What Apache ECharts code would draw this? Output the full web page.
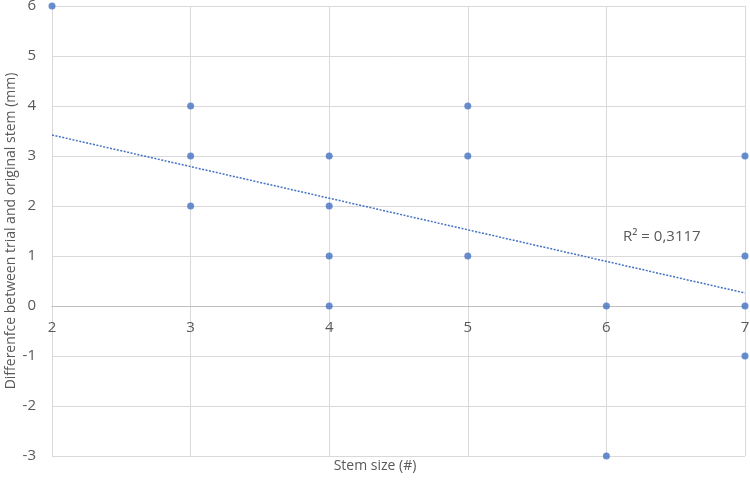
<!DOCTYPE html>
<html>
<head>
<meta charset="utf-8">
<script src="https://cdn.jsdelivr.net/npm/echarts@6/dist/echarts.min.js"></script>
<style>
  html, body { margin: 0; padding: 0; background: #fff; }
  #chart { width: 750px; height: 480px; }
</style>
</head>
<body>
<div id="chart"></div>
<script>
// measured points (stem size, difference in mm)
const stemSize = [2, 3, 3, 3, 4, 4, 4, 4, 5, 5, 5, 6, 6, 7, 7, 7, 7];
const difference = [6, 4, 3, 2, 3, 2, 1, 0, 4, 3, 1, 0, -3, 3, 1, 0, -1];

// linear trendline endpoints as drawn
const trendX = [2, 7];
const trendY = [3.42, 0.26];
const rSquaredText = "R² = 0,3117";

const points = stemSize.map((x, i) => [x, difference[i]]);
const trend = trendX.map((x, i) => [x, trendY[i]]);

const chart = echarts.init(document.getElementById("chart"));
const fontFamily = "'Open Sans', 'Liberation Sans', sans-serif";

chart.setOption({
  animation: false,
  textStyle: { fontFamily: fontFamily },
  grid: { left: 52, right: 5, top: 6, bottom: 24, outerBoundsMode: "none", containLabel: false },
  xAxis: {
    type: "value",
    min: 2,
    max: 7,
    interval: 1,
    // x axis crosses the value axis at 0 (3 units above the -3 bottom)
    offset: -150,
    axisLine: { onZero: false, lineStyle: { color: "#bfbfbf", width: 1 } },
    axisTick: { show: false },
    axisLabel: { color: "#595959", fontSize: 15, margin: 14 },
    splitLine: { lineStyle: { color: "#d9d9d9" } },
  },
  yAxis: {
    type: "value",
    min: -3,
    max: 6,
    interval: 1,
    axisLine: { show: true, lineStyle: { color: "#d9d9d9" } },
    axisTick: { show: false },
    axisLabel: { color: "#595959", fontSize: 15, margin: 16 },
    splitLine: { lineStyle: { color: "#d9d9d9" } },
  },
  series: [
    {
      type: "line",
      data: trend,
      symbol: "none",
      lineStyle: { color: "#4472C4", width: 1.5, type: [2, 1.5] },
      z: 1,
    },
    {
      type: "scatter",
      data: points,
      symbolSize: 7,
      itemStyle: { color: "#4472C4" },
      z: 3,
    },
  ],
  graphic: [
    {
      type: "text",
      x: 11,
      y: 231,
      rotation: Math.PI / 2,
      style: {
        text: "Differenfce between trial and original stem (mm)",
        fill: "#595959",
        fontSize: 14,
        fontFamily: fontFamily,
        align: "center",
        verticalAlign: "middle",
      },
    },
    {
      type: "text",
      left: 623,
      top: 229,
      style: { text: rSquaredText, fill: "#595959", fontSize: 15, fontFamily: fontFamily },
    },
    {
      type: "text",
      left: "center",
      top: 459,
      style: { text: "Stem size (#)", fill: "#595959", fontSize: 14, fontFamily: fontFamily },
    },
  ],
});
</script>
</body>
</html>
